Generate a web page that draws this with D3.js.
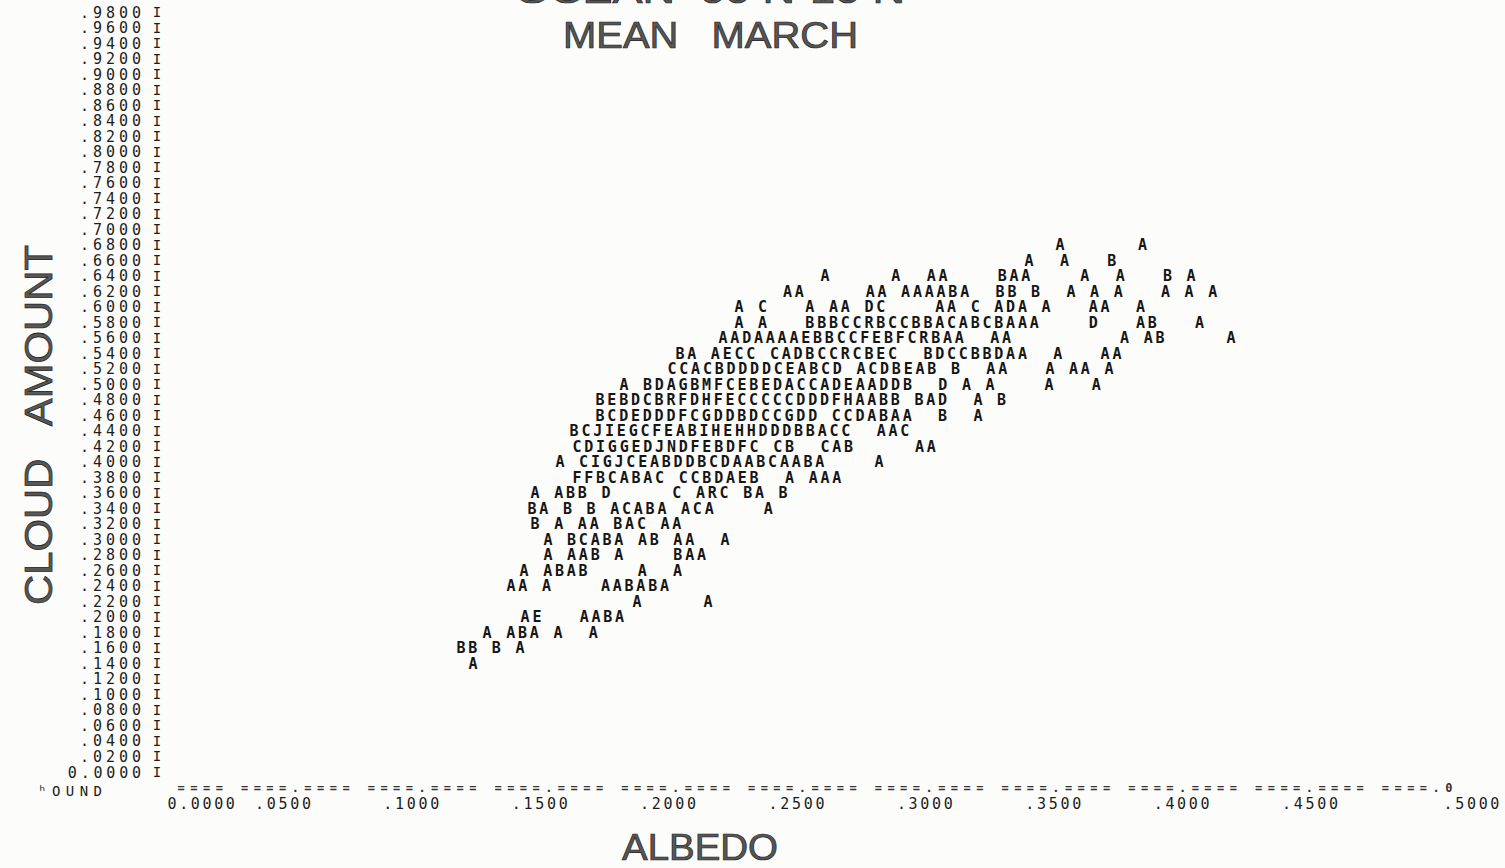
<!DOCTYPE html>
<html>
<head>
<meta charset="utf-8">
<script src="https://cdn.jsdelivr.net/npm/d3@7/dist/d3.min.js"></script>
<style>
html, body { margin: 0; padding: 0; background: #fcfcfa; }
svg { display: block; }
</style>
</head>
<body>
<div id="chart"></div>
<script>
// printer plot: each letter counts cases in a cell (A=1, B=2, ...)
var cloudLevels = [0.68, 0.66, 0.64, 0.62, 0.60, 0.58, 0.56, 0.54, 0.52, 0.50,
    0.48, 0.46, 0.44, 0.42, 0.40, 0.38, 0.36, 0.34, 0.32, 0.30,
    0.28, 0.26, 0.24, 0.22, 0.20, 0.18, 0.16, 0.14];

// albedo of the first cell in each printed row
var rowStart = [0.3561, 0.3441, 0.2646, 0.2500, 0.2311, 0.2311, 0.2249, 0.2081, 0.2050, 0.1863,
    0.1770, 0.1770, 0.1669, 0.1680, 0.1614, 0.1680, 0.1517, 0.1505, 0.1517, 0.1567,
    0.1567, 0.1474, 0.1423, 0.1914, 0.1478, 0.1330, 0.1228, 0.1275];

var rowCells = [
    "A      A",
    "A  A   B",
    "A     A  AA    BAA    A  A   B A",
    "AA     AA AAAABA  BB B  A A A   A A A",
    "A C   A AA DC    AA C ADA A   AA  A",
    "A A   BBBCCRBCCBBACABCBAAA    D   AB   A",
    "AADAAAAEBBCCFEBFCRBAA  AA         A AB     A",
    "BA AECC CADBCCRCBEC  BDCCBBDAA  A   AA",
    "CCACBDDDDCEABCD ACDBEAB B  AA   A AA A",
    "A BDAGBMFCEBEDACCADEAADDB  D A A    A   A",
    "BEBDCBRFDHFECCCCCDDDFHAABB BAD  A B",
    "BCDEDDDFCGDDBDCCGDD CCDABAA  B  A",
    "BCJIEGCFEABIHEHHDDDBBACC  AAC",
    "CDIGGEDJNDFEBDFC CB  CAB     AA",
    "A CIGJCEABDDBCDAABCAABA    A",
    "FFBCABAC CCBDAEB  A AAA",
    "A ABB D     C ARC BA B",
    "BA B B ACABA ACA    A",
    "B A AA BAC AA",
    "A BCABA AB AA  A",
    "A AAB A    BAA",
    "A ABAB    A  A",
    "AA A    AABABA",
    "A     A",
    "AE   AABA",
    "A ABA A  A",
    "BB B A",
    "A"
];
var cellWidth = 0.0046;

var xTicks = [0, 0.05, 0.10, 0.15, 0.20, 0.25, 0.30, 0.35, 0.40, 0.45, 0.50];
var yTicks = d3.range(50).map(function (i) { return i / 50; });

var width = 1505,
    height = 868,
    mono = "'DejaVu Sans Mono', monospace",
    sans = "'Liberation Sans', Arial, sans-serif",
    ink = "#1c1c1c";

var x = d3.scaleLinear().domain([0, 0.5]).range([145.6, 1429.4]);
var y = d3.scaleLinear().domain([0, 0.98]).range([772, 12]);

var points = [];
rowCells.forEach(function (s, r) {
    for (var i = 0; i < s.length; i++) {
        if (s[i] !== " ") {
            points.push({ albedo: rowStart[r] + i * cellWidth, cloud: cloudLevels[r], mark: s[i] });
        }
    }
});

var svg = d3.select("#chart").append("svg")
    .attr("width", width)
    .attr("height", height);

svg.append("rect")
    .attr("width", width)
    .attr("height", height)
    .attr("fill", "#fcfcfa");

// titles
var title = function (sel) {
    sel.attr("font-family", sans)
        .attr("fill", "#575757").attr("stroke", "#222").attr("stroke-width", 0.7)
        .attr("lengthAdjust", "spacingAndGlyphs")
        .style("white-space", "pre");
};

svg.append("text")
    .attr("x", 515).attr("y", 3)
    .attr("font-size", 34)
    .attr("textLength", 390)
    .call(title)
    .text("OCEAN  00 N-10 N");

svg.append("text")
    .attr("x", 563).attr("y", 48)
    .attr("font-size", 37)
    .attr("textLength", 295)
    .call(title)
    .text("MEAN   MARCH");

svg.append("text")
    .attr("x", 622).attr("y", 860)
    .attr("font-size", 36)
    .attr("textLength", 156)
    .call(title)
    .text("ALBEDO");

svg.append("text")
    .attr("transform", "translate(52,605)rotate(-90)")
    .attr("font-size", 38)
    .attr("textLength", 360)
    .call(title)
    .text("CLOUD   AMOUNT");

// y axis: labels and the column of I's
var tickLabel = function (v) {
    var s = v.toFixed(4);
    return v === 0 ? s : s.slice(1);
};

svg.append("g").selectAll("text")
    .data(yTicks)
    .enter().append("text")
    .attr("x", function (d) { return 141 - tickLabel(d).length * 12.2; })
    .attr("y", function (d) { return y(d) + 5.5; })
    .attr("font-family", mono).attr("font-size", 15)
    .attr("fill", ink)
    .attr("textLength", function (d) { return tickLabel(d).length * 12.2; })
    .attr("lengthAdjust", "spacing")
    .text(tickLabel);

svg.append("g").selectAll("text")
    .data(yTicks)
    .enter().append("text")
    .attr("x", 157)
    .attr("y", function (d) { return y(d) + 5; })
    .attr("text-anchor", "middle")
    .attr("font-family", mono).attr("font-size", 14)
    .attr("fill", ink)
    .text("I");

svg.append("text")
    .attr("x", 38).attr("y", 796)
    .attr("font-family", mono).attr("font-size", 14)
    .attr("fill", ink)
    .attr("textLength", 64).attr("lengthAdjust", "spacing")
    .text("\u02b0OUND");

// x axis line and labels
var axisLine = "==== ";
for (var k = 1; k < xTicks.length - 1; k++) axisLine += "====.==== ";
axisLine += "====.0";

svg.append("text")
    .attr("x", x(0) + 32).attr("y", 792)
    .attr("font-family", mono).attr("font-size", 12).attr("font-weight", "bold")
    .attr("fill", "#333")
    .attr("textLength", x(0.5) - x(0) - 9).attr("lengthAdjust", "spacing")
    .text(axisLine);

svg.append("g").selectAll("text")
    .data(xTicks)
    .enter().append("text")
    .attr("x", function (d, i) {
        var n = tickLabel(d).length * 11.2;
        if (i === 0) return x(d) + 22;
        if (i === xTicks.length - 1) return x(d) + 14;
        return x(d) + 9 - n / 2;
    })
    .attr("y", 809)
    .attr("font-family", mono).attr("font-size", 15)
    .attr("fill", ink)
    .attr("textLength", function (d) { return tickLabel(d).length * 11.2; })
    .attr("lengthAdjust", "spacing")
    .text(tickLabel);

// the plotted cells
svg.append("g").selectAll("text")
    .data(points)
    .enter().append("text")
    .attr("x", function (d) { return x(d.albedo); })
    .attr("y", function (d) { return y(d.cloud) + 5.5; })
    .attr("text-anchor", "middle")
    .attr("font-family", mono).attr("font-size", 15).attr("font-weight", "bold")
    .attr("fill", "#161616")
    .text(function (d) { return d.mark; });
</script>
</body>
</html>
